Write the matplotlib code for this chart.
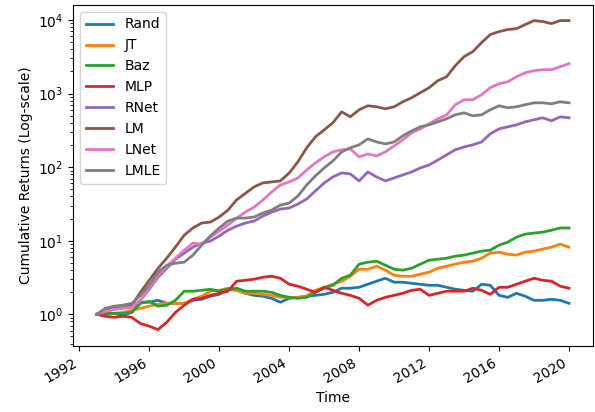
import numpy as np
import pandas as pd
import matplotlib
matplotlib.use("Agg")
import matplotlib.pyplot as plt
import matplotlib.dates as mdates

# semiannual samples, 1993-01 .. 2020-01
dates = pd.date_range("1993-01-01", "2020-01-01", freq="6MS")

rand = [1.0, 1.03, 1.03, 0.97, 1.06, 1.46, 1.46, 1.55, 1.41, 1.41, 1.41, 1.55, 1.60, 1.76,
        1.87, 2.19, 2.12, 1.93, 1.81, 1.76, 1.65, 1.46, 1.65, 1.70, 1.76, 1.81, 1.87, 1.99,
        2.26, 2.26, 2.33, 2.56, 2.82, 3.09, 2.73, 2.73, 2.64, 2.56, 2.48, 2.48, 2.33, 2.19,
        2.12, 2.06, 2.56, 2.48, 1.81, 1.70, 1.93, 1.76, 1.55, 1.55, 1.60, 1.55, 1.41]
jt = [1.0, 1.0, 1.03, 1.06, 1.13, 1.21, 1.29, 1.37, 1.41, 1.41, 1.41, 1.60, 1.76, 2.06,
      2.12, 2.26, 2.12, 1.93, 1.93, 1.87, 1.81, 1.70, 1.70, 1.70, 1.76, 2.12, 2.33, 2.56,
      2.82, 3.29, 4.10, 4.10, 4.51, 3.98, 3.40, 3.29, 3.29, 3.51, 3.73, 4.23, 4.51, 4.80,
      5.11, 5.27, 5.79, 6.78, 6.99, 6.57, 6.37, 6.99, 7.22, 7.68, 8.18, 8.99, 8.18]
baz = [1.0, 1.03, 1.03, 1.03, 1.06, 1.41, 1.50, 1.29, 1.33, 1.55, 2.06, 2.06, 2.12, 2.19,
       2.06, 2.19, 2.26, 2.06, 2.06, 2.06, 1.99, 1.81, 1.70, 1.65, 1.70, 1.99, 2.26, 2.48,
       3.09, 3.40, 4.80, 5.11, 5.27, 4.65, 4.10, 3.98, 4.23, 4.80, 5.44, 5.61, 5.79, 6.17,
       6.37, 6.78, 7.22, 7.44, 8.71, 9.57, 11.2, 12.3, 12.7, 13.1, 13.9, 14.9, 14.9]
mlp = [1.0, 0.94, 0.91, 0.94, 0.91, 0.75, 0.69, 0.62, 0.78, 1.06, 1.33, 1.60, 1.65, 1.81,
       1.93, 2.06, 2.82, 2.90, 3.00, 3.19, 3.29, 3.09, 2.56, 2.41, 2.19, 1.99, 2.33, 2.12,
       1.93, 1.81, 1.65, 1.33, 1.55, 1.70, 1.81, 1.93, 2.12, 2.19, 1.81, 1.93, 2.06, 2.06,
       2.06, 2.26, 2.12, 1.87, 2.33, 2.33, 2.56, 2.82, 3.09, 2.90, 2.82, 2.41, 2.26]
rnet = [1.0, 1.10, 1.17, 1.21, 1.25, 1.55, 2.19, 3.19, 4.23, 5.61, 6.78, 8.18, 9.27, 9.88,
        11.6, 13.9, 15.8, 17.4, 18.5, 21.6, 24.5, 26.9, 27.8, 31.5, 36.9, 47.4, 60.9, 73.5,
        83.4, 80.8, 64.9, 86.0, 73.5, 64.9, 71.3, 78.3, 86.0, 97.5, 107, 125, 147, 172,
        188, 201, 220, 283, 331, 353, 376, 413, 440, 468, 426, 483, 468]
lm = [1.0, 1.13, 1.25, 1.29, 1.33, 1.99, 2.9, 4.2, 5.8, 8.2, 11.9, 14.9, 17.4, 17.9,
      21.0, 26, 36, 44, 54, 61, 63, 65, 83, 118, 183, 258, 321, 400,
      565, 483, 602, 682, 661, 621, 661, 773, 877, 1025, 1200, 1494, 1694, 2392,
      3173, 3711, 4921, 6326, 6950, 7400, 7636, 8656, 9812, 9510, 8930, 9812, 9812]
lnet = [1.0, 1.10, 1.17, 1.21, 1.25, 1.55, 2.26, 3.40, 4.51, 5.79, 7.44, 9.27, 8.99, 11.2,
        13.5, 16.3, 20.3, 24.5, 28.7, 35.7, 45.9, 57.2, 62.9, 71.3, 91.6, 114, 138, 161,
        172, 177, 138, 151, 142, 161, 194, 235, 292, 331, 388, 454, 514, 704,
        823, 823, 963, 1200, 1360, 1448, 1694, 1920, 2045, 2110, 2110, 2318, 2547]
lmle = [1.0, 1.21, 1.29, 1.33, 1.41, 1.81, 2.48, 3.73, 4.65, 4.95, 5.11, 6.37, 8.71, 11.6,
        14.9, 18.5, 20.3, 20.3, 21.0, 23.8, 26.1, 30.5, 32.5, 40.5, 57.2, 75.9, 97.5, 121,
        161, 183, 201, 242, 220, 207, 220, 266, 311, 353, 376, 413, 454, 514,
        547, 498, 514, 602, 682, 641, 661, 704, 749, 749, 726, 773, 749]

names = ["Rand", "JT", "Baz", "MLP", "RNet", "LM", "LNet", "LMLE"]
series = [rand, jt, baz, mlp, rnet, lm, lnet, lmle]

fig, ax = plt.subplots(figsize=(5.95, 4.12), dpi=100)
for name, vals in zip(names, series):
    ax.plot(dates, vals, label=name, linewidth=2)

ax.set_yscale("log")
ax.set_ylim(0.37, 1.6e4)
ax.xaxis.set_major_locator(mdates.YearLocator(4))
ax.xaxis.set_major_formatter(mdates.DateFormatter("%Y"))
ax.set_xlabel("Time")
ax.set_ylabel("Cumulative Returns (Log-scale)")
ax.legend(loc="upper left")
fig.autofmt_xdate()
fig.subplots_adjust(left=0.123, right=0.996, top=0.988, bottom=0.16)
fig.savefig("out.png")
